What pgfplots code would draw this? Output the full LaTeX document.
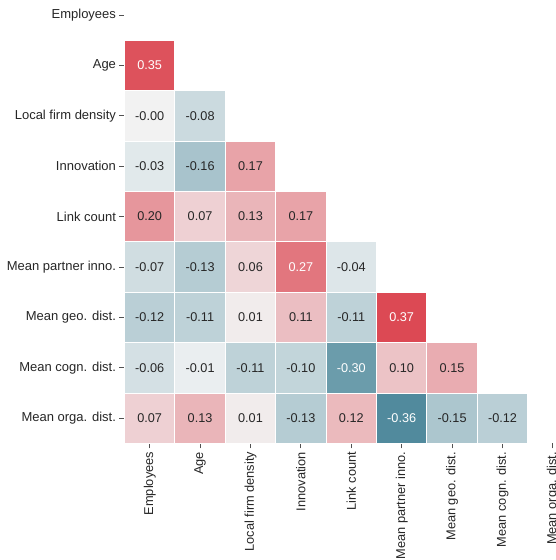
\documentclass[border=0pt]{standalone}
\usepackage{pgfplots}
\pgfplotsset{compat=1.18}
\usepackage{pgfplotstable}
\usepackage{fontspec}
\setmainfont{Liberation Sans}
\definecolor{txt}{RGB}{38,38,38}

% x = column index, y = 8 - row index (Employees row on top)
\pgfplotstableread{
x y v
0 7 0.35
0 6 -0.00
1 6 -0.08
0 5 -0.03
1 5 -0.16
2 5 0.17
0 4 0.20
1 4 0.07
2 4 0.13
3 4 0.17
0 3 -0.07
1 3 -0.13
2 3 0.06
3 3 0.27
4 3 -0.04
0 2 -0.12
1 2 -0.11
2 2 0.01
3 2 0.11
4 2 -0.11
5 2 0.37
0 1 -0.06
1 1 -0.01
2 1 -0.11
3 1 -0.10
4 1 -0.30
5 1 0.10
6 1 0.15
0 0 0.07
1 0 0.13
2 0 0.01
3 0 -0.13
4 0 0.12
5 0 -0.36
6 0 -0.15
7 0 -0.12
}\corr

\begin{document}
\begin{tikzpicture}
\begin{axis}[
  at={(0,0)}, anchor=south west,
  scale only axis, width=453.6pt, height=453.6pt,
  xmin=-0.5, xmax=8.5, ymin=-0.5, ymax=8.5,
  axis line style={draw=none},
  xtick={0,...,8}, ytick={0,...,8},
  xticklabels={Employees, Age, Local firm density, Innovation, Link count, Mean partner inno., Mean geo. dist., Mean cogn. dist., Mean orga. dist.},
  yticklabels={Mean orga. dist., Mean cogn. dist., Mean geo. dist., Mean partner inno., Link count, Innovation, Local firm density, Age, Employees},
  x tick label style={rotate=90, anchor=east, font=\fontsize{12.8}{15}\selectfont, text=txt},
  y tick label style={font=\fontsize{13}{15}\selectfont, text=txt},
  tick align=outside, xtick pos=bottom, ytick pos=left,
  major tick length=5pt,
  tick style={draw=txt!80, line width=0.8pt},
  colormap={corr}{rgb255(0pt)=(63,127,147); rgb255(999pt)=(238,241,242); rgb255(1000pt)=(242,242,242); rgb255(1001pt)=(242,240,240); rgb255(2000pt)=(218,59,71)},
  point meta min=-0.4, point meta max=0.4,
  clip=false,
]
\addplot[
  scatter, only marks, mark=square*, mark size=25.2pt,
  scatter/use mapped color={draw=white, fill=mapped color},
  line width=1pt,
  point meta=explicit,
] table[x=x, y=y, meta=v] {\corr};
\addplot[
  only marks, mark=none,
  point meta=explicit symbolic,
  nodes near coords={\pgfmathparse{abs(\pgfplotspointmeta)}\ifdim\pgfmathresult pt>0.25pt\color{white}\else\color{txt}\fi\pgfplotspointmeta},
  nodes near coords align=center,
  every node near coord/.append style={anchor=center, font=\fontsize{12.7}{15}\selectfont},
] table[x=x, y=y, meta=v] {\corr};
\end{axis}
\pgfresetboundingbox
\useasboundingbox (-124.5pt,-116.6pt) rectangle (431.5pt,443.4pt);
\end{tikzpicture}
\end{document}
